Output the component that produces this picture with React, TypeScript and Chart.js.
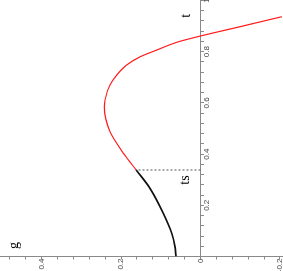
import React, { useEffect, useRef } from "react";
import { Chart, registerables } from "chart.js";

Chart.register(...registerables);

// Unrotated drawing frame (the picture is this chart turned 90° counter-clockwise)
const FRAME_W = 271;
const FRAME_H = 283;

// Curve g(t): black part up to ts, red part after ts
const blackT = [0, 0.04, 0.0906, 0.169, 0.266, 0.338];
const blackG = [0.0617, 0.0645, 0.0725, 0.0937, 0.127, 0.162];
const redT = [0.338, 0.403, 0.4875, 0.54, 0.585, 0.611, 0.67, 0.709, 0.748, 0.7805, 0.8066, 0.8367, 0.861, 0.8977, 0.9367];
const redG = [0.162, 0.194, 0.228, 0.239, 0.242, 0.2405, 0.228, 0.211, 0.186, 0.152, 0.11, 0.06, 0.001, -0.0995, -0.205];

// Dashed marker at ts
const tsValue = 0.338;
const gAtTs = 0.162;

// Axes
const tRange = [0, 1.002];
const gRange = [-0.2078, 0.505];
const tMajorLabels = [0.2, 0.4, 0.6, 0.8, 1];
const gMajorLabels = [-0.2, 0, 0.2, 0.4];
const minorStep = 0.04;

// Text annotations (in data coordinates)
const annotations = [
  { text: "t", t: 0.94, g: 0.0365 },
  { text: "g", t: 0.043, g: 0.468 },
  { text: "ts", t: 0.299, g: 0.039 },
];

const stepTicks = (min: number, max: number) => {
  const out: number[] = [];
  for (let k = Math.ceil(min / minorStep - 1e-9); k * minorStep <= max + 1e-9; k++) {
    out.push(Math.round(k * minorStep * 10000) / 10000);
  }
  return out;
};

const isIn = (v: number, list: number[]) => list.some((m) => Math.abs(m - v) < 1e-6);
const fmt = (v: number) => String(Math.round(v * 10) / 10);

const AXIS_COLOR = "#8a8a8a";
const LABEL_COLOR = "#444444";
const TICK_FONT = { family: '"Liberation Sans Narrow", "Liberation Sans", Arial, sans-serif', size: 8 };

const zeroPad = (s: any) => {
  s.paddingLeft = 0;
  s.paddingRight = 0;
  s.paddingTop = 0;
  s.paddingBottom = 0;
};

const labelPlugin = {
  id: "textLabels",
  afterDraw(chart: any) {
    const { ctx, scales } = chart;
    ctx.save();
    ctx.fillStyle = "#000";
    ctx.font = '14px "Liberation Serif", "Times New Roman", serif';
    ctx.textAlign = "center";
    ctx.textBaseline = "middle";
    for (const a of annotations) {
      ctx.fillText(a.text, scales.x.getPixelForValue(a.t), scales.y.getPixelForValue(a.g));
    }
    ctx.restore();
  },
};

function App() {
  const ref = useRef<HTMLCanvasElement | null>(null);

  useEffect(() => {
    if (!ref.current) return;
    const tTicks = stepTicks(tRange[0], tRange[1]);
    const gTicks = stepTicks(gRange[0], gRange[1]);
    const chart = new Chart(ref.current, {
      type: "line",
      data: {
        datasets: [
          {
            data: blackT.map((t, i) => ({ x: t, y: blackG[i] })),
            borderColor: "#111111",
            borderWidth: 1.7,
            pointRadius: 0,
            cubicInterpolationMode: "monotone",
            fill: false,
          },
          {
            data: redT.map((t, i) => ({ x: t, y: redG[i] })),
            borderColor: "#ff1a1a",
            borderWidth: 1.2,
            pointRadius: 0,
            cubicInterpolationMode: "monotone",
            fill: false,
          },
          {
            data: [
              { x: tsValue, y: 0 },
              { x: tsValue, y: gAtTs },
            ],
            borderColor: "#555555",
            borderWidth: 1,
            borderDash: [2, 2],
            pointRadius: 0,
            fill: false,
          },
        ],
      },
      options: {
        responsive: false,
        animation: false,
        devicePixelRatio: 1,
        events: [],
        layout: { padding: 0 },
        plugins: { legend: { display: false }, tooltip: { enabled: false } },
        scales: {
          x: {
            type: "linear",
            min: tRange[0],
            max: tRange[1],
            bounds: "data",
            position: { y: 0 },
            afterBuildTicks: (s: any) => {
              s.ticks = tTicks.map((v) => ({ value: v }));
            },
            afterFit: (s: any) => {
              s.height = 0;
              zeroPad(s);
            },
            grid: { display: true, drawOnChartArea: false, drawTicks: true, tickLength: 3, color: AXIS_COLOR },
            border: { display: true, color: AXIS_COLOR, width: 1 },
            ticks: {
              autoSkip: false,
              maxRotation: 0,
              minRotation: 0,
              padding: -2,
              color: LABEL_COLOR,
              font: TICK_FONT,
              callback: (v: any) => (isIn(Number(v), tMajorLabels) ? fmt(Number(v)) : ""),
            },
          },
          y: {
            type: "linear",
            min: gRange[0],
            max: gRange[1],
            bounds: "data",
            position: "left",
            afterBuildTicks: (s: any) => {
              s.ticks = gTicks.map((v) => ({ value: v }));
            },
            afterFit: (s: any) => {
              s.width = 14.5;
              zeroPad(s);
            },
            grid: { display: true, drawOnChartArea: false, drawTicks: true, tickLength: 3, color: AXIS_COLOR },
            border: { display: true, color: AXIS_COLOR, width: 1 },
            ticks: {
              autoSkip: false,
              padding: -1,
              color: LABEL_COLOR,
              font: TICK_FONT,
              callback: (v: any) => (isIn(Number(v), gMajorLabels) ? fmt(Number(v)) : ""),
            },
          },
        },
      } as any,
      plugins: [labelPlugin],
    });
    return () => chart.destroy();
  }, []);

  return (
    <div style={{ position: "absolute", left: 0, top: 0, width: FRAME_H, height: FRAME_W, overflow: "hidden", background: "#fff" }}>
      <div
        style={{
          position: "absolute",
          left: 0,
          top: 0,
          width: FRAME_W,
          height: FRAME_H,
          transformOrigin: "0 0",
          transform: `translateY(${FRAME_W}px) rotate(-90deg)`,
        }}
      >
        <canvas ref={ref} width={FRAME_W} height={FRAME_H} style={{ display: "block", width: FRAME_W, height: FRAME_H }} />
      </div>
    </div>
  );
}

export default App;
